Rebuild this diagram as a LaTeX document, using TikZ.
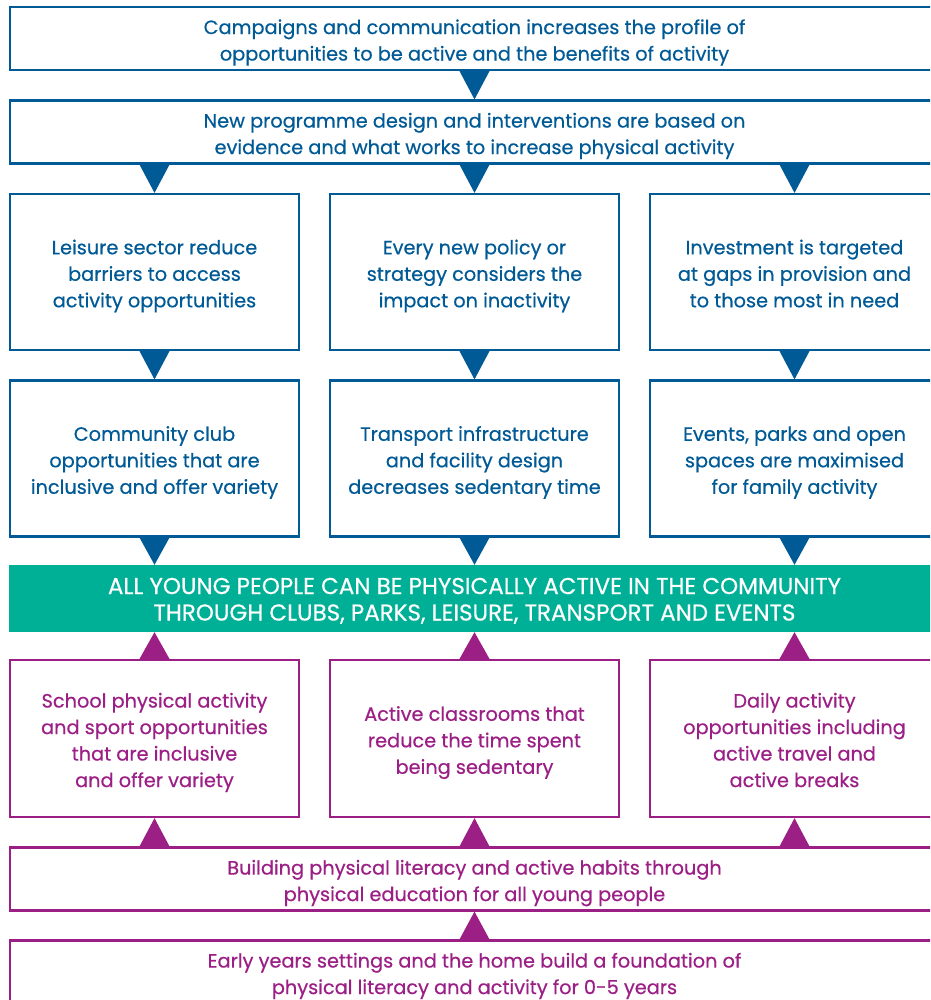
\documentclass[tikz,border=0pt]{standalone}
\usepackage{fontspec}
\setmainfont{Poppins}[FakeBold=0.5]
\definecolor{cblue}{RGB}{0,90,150}
\definecolor{cpurple}{RGB}{156,31,134}
\definecolor{cgreen}{RGB}{0,176,150}
\newcommand\lines[1]{\raisebox{0pt}[\dimexpr\height+7pt\relax][\depth]{\begin{tabular}{@{}c@{}}#1\end{tabular}}}
\begin{document}
\begin{tikzpicture}[x=1pt,y=-1pt,
  txt/.style={font=\fontsize{19.3}{26.5}\selectfont, inner sep=0pt},
  bluebox/.style={txt, draw=cblue, text=cblue, line width=2.2pt, fill=white},
  purplebox/.style={txt, draw=cpurple, text=cpurple, line width=2.2pt, fill=white},
  wide/.style={minimum width=929pt, minimum height=63pt},
  col/.style={minimum width=289pt, minimum height=156pt},
  bluetri/.style={fill=cblue},
  purpletri/.style={fill=cpurple}]
\useasboundingbox (0,0) rectangle (930,1000);
\clip (0,0) rectangle (930,1000);
% blue part
\node[bluebox, wide] (camp) at (474.5,38.5) {\lines{Campaigns and communication increases the profile of\\opportunities to be active and the benefits of activity}};
\node[bluebox, wide] (prog) at (474.5,132) {\lines{New programme design and interventions are based on\\evidence and what works to increase physical activity}};
\node[bluebox, col] (leis) at (154.5,272) {\lines{Leisure sector reduce\\barriers to access\\activity opportunities}};
\node[bluebox, col] (poli) at (474.5,272) {\lines{Every new policy or\\strategy considers the\\impact on inactivity}};
\node[bluebox, col] (inve) at (794.5,272) {\lines{Investment is targeted\\at gaps in provision and\\to those most in need}};
\node[bluebox, col] (club) at (154.5,458.5) {\lines{Community club\\opportunities that are\\inclusive and offer variety}};
\node[bluebox, col] (tran) at (474.5,458.5) {\lines{Transport infrastructure\\and facility design\\decreases sedentary time}};
\node[bluebox, col] (even) at (794.5,458.5) {\lines{Events, parks and open\\spaces are maximised\\for family activity}};
% green band
\node[txt, font=\fontsize{23}{26.5}\selectfont, fill=cgreen, text=white, minimum width=931pt, minimum height=67pt] (all) at (474.5,598.5) {\lines{ALL YOUNG PEOPLE CAN BE PHYSICALLY ACTIVE IN THE COMMUNITY\\THROUGH CLUBS, PARKS, LEISURE, TRANSPORT AND EVENTS}};
% purple part
\node[purplebox, minimum width=289pt, minimum height=157pt] (scho) at (154.5,738.5) {\lines{School physical activity\\and sport opportunities\\that are inclusive\\and offer variety}};
\node[purplebox, minimum width=289pt, minimum height=157pt] (clas) at (474.5,738.5) {\lines{Active classrooms that\\reduce the time spent\\being sedentary}};
\node[purplebox, minimum width=289pt, minimum height=157pt] (dail) at (794.5,738.5) {\lines{Daily activity\\opportunities including\\active travel and\\active breaks}};
\node[purplebox, wide] (buil) at (474.5,879) {\lines{Building physical literacy and active habits through\\physical education for all young people}};
\node[purplebox, wide] (earl) at (474.5,972) {\lines{Early years settings and the home build a foundation of\\physical literacy and activity for 0-5 years}};
% blue triangles (pointing down)
\fill[bluetri] (camp.south) ++(-15,0) -- ++(30,0) -- (prog.north) -- cycle;
\foreach \b in {leis,poli,inve}{
  \fill[bluetri] (prog.south -| \b.north) ++(-15,0) -- ++(30,0) -- (\b.north) -- cycle;
}
\fill[bluetri] (leis.south) ++(-15,0) -- ++(30,0) -- (club.north) -- cycle;
\fill[bluetri] (poli.south) ++(-15,0) -- ++(30,0) -- (tran.north) -- cycle;
\fill[bluetri] (inve.south) ++(-15,0) -- ++(30,0) -- (even.north) -- cycle;
\foreach \b in {club,tran,even}{
  \fill[bluetri] (\b.south) ++(-15,0) -- ++(30,0) -- (all.north -| \b.south) -- cycle;
}
% purple triangles (pointing up)
\foreach \b in {scho,clas,dail}{
  \fill[purpletri] (\b.north) ++(-15,0) -- ++(30,0) -- (all.south -| \b.north) -- cycle;
  \fill[purpletri] (buil.north -| \b.south) ++(-15,0) -- ++(30,0) -- (\b.south) -- cycle;
}
\fill[purpletri] (earl.north) ++(-15,0) -- ++(30,0) -- (buil.south) -- cycle;
\end{tikzpicture}
\end{document}
